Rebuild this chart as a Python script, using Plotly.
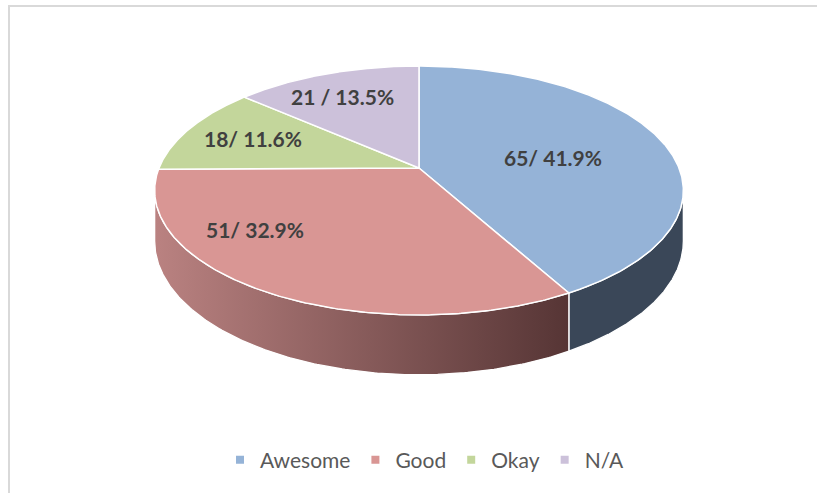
import numpy as np
import plotly.graph_objects as go

# ---- data ----
categories = ["Awesome", "Good", "Okay", "N/A"]
counts = [65, 51, 18, 21]
slice_labels = ["65/ 41.9%", "51/ 32.9%", "18/ 11.6%", "21 / 13.5%"]

# ---- styles ----
top_colors = ["#95B3D7", "#D99694", "#C3D69B", "#CCC1DA"]
side_colors = ["#3A4758", "#8E5A59", "#74804F", "#6F6680"]
side_gradients = [
    None,
    [[0, "#BA8281"], [1, "#563535"]],
    None,
    None,
]
label_pos = [(553, 157), (255, 229), (253, 138), (342, 96)]

W, H = 817, 493
# perspective-projection parameters of the 3D pie (pixel space)
CX, CY = 419, 168      # projected centre of the top face
FX, GY = 260, 120.4    # horizontal / vertical radii scale
PERSP = 0.1807         # perspective strength
THICK = 49             # pie thickness


def proj(theta_deg, r=1.0):
    t = np.radians(theta_deg)
    u = r * np.sin(t)
    v = r * np.cos(t)
    z = 1 + PERSP * v
    return CX + FX * u / z, CY - GY * v / z, z


total = sum(counts)
fracs = [c / total for c in counts]
bounds = np.concatenate([[0], np.cumsum(fracs) * 360])

# silhouette angles (leftmost / rightmost points of the top ellipse)
grid = np.linspace(0, 360, 3601)
gx, _, _ = proj(grid)
theta_r = grid[np.argmax(gx)]
theta_l = grid[np.argmin(gx)]

fig = go.Figure()

# side walls
for i, cat in enumerate(categories):
    a0, a1 = bounds[i], bounds[i + 1]
    s0, s1 = max(a0, theta_r), min(a1, theta_l)
    if s1 <= s0:
        continue
    th = np.linspace(s0, s1, 200)
    xt, yt, z = proj(th)
    yb = yt + THICK / z
    xs = np.concatenate([xt, xt[::-1], xt[:1]])
    ys = np.concatenate([yt, yb[::-1], yt[:1]])
    kw = dict(fillcolor=side_colors[i])
    if side_gradients[i] is not None:
        kw = dict(fillgradient=dict(type="horizontal", colorscale=side_gradients[i]))
    fig.add_trace(go.Scatter(x=xs, y=ys, mode="lines", fill="toself",
                             line=dict(color="white", width=1.3),
                             hoverinfo="skip", showlegend=False, **kw))

# top faces
for i, cat in enumerate(categories):
    a0, a1 = bounds[i], bounds[i + 1]
    th = np.linspace(a0, a1, 300)
    xt, yt, _ = proj(th)
    xs = np.concatenate([[CX], xt, [CX]])
    ys = np.concatenate([[CY], yt, [CY]])
    fig.add_trace(go.Scatter(x=xs, y=ys, mode="lines", fill="toself",
                             fillcolor=top_colors[i],
                             line=dict(color="white", width=1.5),
                             name=cat, hoverinfo="skip", showlegend=False))

# legend entries
for i, cat in enumerate(categories):
    fig.add_trace(go.Scatter(x=[None], y=[None], mode="markers", name=cat,
                             marker=dict(symbol="square", size=8, color=top_colors[i])))

# labels
for (lx, ly), txt in zip(label_pos, slice_labels):
    fig.add_annotation(x=lx, y=ly, text=f"<b>{txt}</b>", showarrow=False,
                       font=dict(family="Lato", size=21, color="#404040"),
                       xanchor="center", yanchor="middle")

# chart border
fig.add_shape(type="rect", x0=9, y0=6, x1=W + 40, y1=H + 40,
              xref="x", yref="y", line=dict(color="#D9D9D9", width=2),
              fillcolor="rgba(0,0,0,0)", layer="below")

fig.update_layout(
    width=W, height=H, autosize=False,
    margin=dict(l=0, r=0, t=0, b=0),
    paper_bgcolor="white", plot_bgcolor="white",
    xaxis=dict(range=[0, W], visible=False, fixedrange=True),
    yaxis=dict(range=[H, 0], visible=False, fixedrange=True),
    showlegend=True,
    hovermode=False,
    legend=dict(orientation="h", x=425 / W, xanchor="center",
                y=1 - 460 / H, yanchor="middle",
                font=dict(family="Lato", size=21, color="#595959"),
                bgcolor="rgba(0,0,0,0)", itemclick=False),
)

fig.write_html("out.html",
               config={"displayModeBar": False},
               post_script="document.body.style.margin='0';"
                           "document.body.style.overflow='hidden';")
